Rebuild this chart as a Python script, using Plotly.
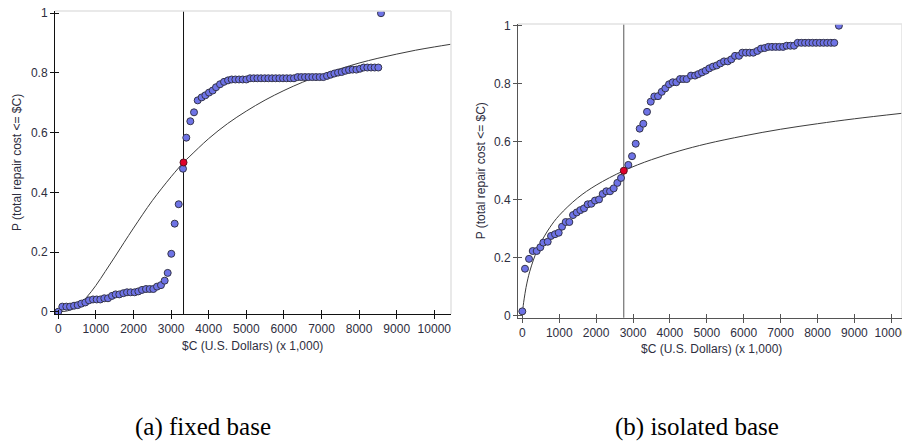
import plotly.graph_objects as go

# ---------------- data ----------------
# (a) fixed base: empirical probability of total repair cost <= $C
fixed_cost = [0, 106, 213, 311, 418, 515, 612, 718, 816, 923, 1020, 1117, 1223, 1321,
              1428, 1525, 1622, 1729, 1827, 1924, 2031, 2128, 2226, 2332, 2430, 2527,
              2625, 2731, 2829, 2909, 3005, 3095, 3202, 3316,
              3404, 3511, 3609, 3707, 3813, 3911, 4008, 4106, 4194, 4301, 4407, 4514,
              4611, 4709, 4806, 4904, 5001, 5099, 5196, 5294, 5391, 5489, 5586, 5684,
              5781, 5879, 5976, 6074, 6171, 6268, 6366, 6463, 6561, 6658, 6756, 6853,
              6951, 7049, 7147, 7244, 7342, 7439, 7537, 7634, 7732, 7829, 7927, 8024,
              8122, 8219, 8317, 8414, 8511, 8582]
fixed_prob = [0.0, 0.017, 0.017, 0.017, 0.020, 0.022, 0.027, 0.031, 0.038, 0.041, 0.041,
              0.041, 0.045, 0.045, 0.053, 0.058, 0.058, 0.062, 0.065, 0.065, 0.065, 0.068,
              0.073, 0.076, 0.076, 0.076, 0.084, 0.089, 0.104, 0.130, 0.194, 0.295, 0.360,
              0.479,
              0.583, 0.638, 0.668, 0.708, 0.718, 0.725, 0.734, 0.741, 0.752, 0.762, 0.770,
              0.775, 0.778, 0.778, 0.778, 0.778, 0.778, 0.782, 0.782, 0.782, 0.782, 0.782,
              0.782, 0.782, 0.782, 0.782, 0.782, 0.782, 0.782, 0.782, 0.786, 0.786, 0.786,
              0.786, 0.786, 0.786, 0.786, 0.786, 0.790, 0.794, 0.798, 0.801, 0.803, 0.807,
              0.810, 0.811, 0.811, 0.814, 0.818, 0.818, 0.818, 0.818, 0.818, 1.0]
fixed_fit_cost = [0, 250, 500, 750, 1000, 1250, 1500, 1750, 2000, 2500, 3000, 3330, 3500,
                  4000, 4500, 5000, 5500, 6000, 6500, 7000, 7500, 8000, 8500, 9000, 9500,
                  10000, 10440]
fixed_fit_prob = [0.0, 0.003, 0.018, 0.048, 0.088, 0.135, 0.183, 0.232, 0.280, 0.372,
                  0.452, 0.500, 0.521, 0.580, 0.630, 0.672, 0.709, 0.741, 0.769, 0.793,
                  0.814, 0.833, 0.849, 0.863, 0.876, 0.887, 0.896]
fixed_median = 3330

# (b) isolated base
isolated_cost = [0, 73, 182, 282, 390, 488, 569, 688, 778, 886, 986, 1076, 1176, 1274,
                 1374, 1474, 1572, 1672, 1772, 1870, 1970, 2079, 2179, 2276, 2377, 2477,
                 2575, 2675, 2873, 2973, 3073, 3181, 3279, 3379, 3480, 3577, 3678, 3778,
                 3875, 3976, 4076, 4173, 4274, 4364, 4455, 4572, 4680, 4770, 4870, 4970,
                 5068, 5168, 5268, 5366, 5466, 5566, 5664, 5764, 5873, 5962, 6062, 6162,
                 6260, 6369, 6469, 6569, 6667, 6767, 6867, 6967, 7067, 7165, 7265, 7365,
                 7463, 7563, 7663, 7763, 7863, 7963, 8063, 8163, 8263, 8363, 8455, 8580]
isolated_prob = [0.015, 0.162, 0.196, 0.223, 0.223, 0.236, 0.252, 0.255, 0.275, 0.281,
                 0.286, 0.307, 0.323, 0.323, 0.347, 0.356, 0.364, 0.370, 0.384, 0.386,
                 0.397, 0.401, 0.420, 0.429, 0.429, 0.439, 0.458, 0.475, 0.520, 0.550,
                 0.593, 0.645, 0.662, 0.703, 0.738, 0.756, 0.757, 0.772, 0.784, 0.798,
                 0.805, 0.805, 0.816, 0.816, 0.816, 0.828, 0.828, 0.833, 0.839, 0.845,
                 0.853, 0.859, 0.863, 0.870, 0.877, 0.877, 0.884, 0.896, 0.896, 0.907,
                 0.907, 0.907, 0.907, 0.913, 0.921, 0.923, 0.927, 0.927, 0.927, 0.927,
                 0.927, 0.931, 0.931, 0.931, 0.941, 0.941, 0.941, 0.941, 0.941, 0.941,
                 0.941, 0.941, 0.941, 0.941, 0.941, 1.0]
isolated_fit_cost = [0, 5, 10, 25, 50, 100, 150, 200, 300, 400, 500, 750, 1000, 1500, 2000,
                     2750, 3500, 4250, 5000, 6000, 7000, 8000, 9000, 10290]
isolated_fit_prob = [0.0, 0.007, 0.014, 0.035, 0.058, 0.097, 0.127, 0.152, 0.192, 0.225,
                     0.252, 0.305, 0.346, 0.406, 0.450, 0.500, 0.538, 0.568, 0.593, 0.620,
                     0.643, 0.662, 0.679, 0.698]
isolated_median = 2750

x_ticks = [0, 1000, 2000, 3000, 4000, 5000, 6000, 7000, 8000, 9000, 10000]
x_tick_labels = ["0", "1000", "2000", "3000", "4000", "5000", "6000", "7000", "8000",
                 "9000", "10000"]
y_ticks = [0, 0.2, 0.4, 0.6, 0.8, 1]
y_tick_labels = ["0", "0.2", "0.4", "0.6", "0.8", "1"]

x_title = "$C (U.S. Dollars) (x 1,000)"
y_title = "P (total repair cost <= $C)"
captions = ["(a) fixed base", "(b) isolated base"]

# ---------------- layout helpers ----------------
W, H = 902, 443


def px(x):
    return x / W


def py(y):
    return 1 - y / H


BLUE = "#6E73E6"
EDGE = "#34344a"
TXT = "#2e2e3e"
FONT = "Liberation Sans, Arial, sans-serif"

panels = [
    dict(cost=fixed_cost, prob=fixed_prob, fc=fixed_fit_cost, fp=fixed_fit_prob,
         med=fixed_median, xdom=[55, 451], ydom=[11, 314],
         xr=[-88, 10444], yr=[-0.0077, 1.0074], axc="#111111", xs="", ov="3"),
    dict(cost=isolated_cost, prob=isolated_prob, fc=isolated_fit_cost,
         fp=isolated_fit_prob, med=isolated_median, xdom=[518, 902], ydom=[24, 317.7],
         xr=[-117, 10290], yr=[-0.0069, 1.0059], axc="#555555", xs="2", ov="4"),
]

fig = go.Figure()
layout = dict(width=W, height=H, margin=dict(l=0, r=0, t=0, b=0), autosize=False,
              paper_bgcolor="white", plot_bgcolor="white", showlegend=False,
              font=dict(family=FONT, size=12, color=TXT))
shapes, annotations = [], []

for i, p in enumerate(panels):
    xs = p["xs"]
    xa, ya = "x" + xs, "y" + xs
    ov = p["ov"]
    # fitted curve
    fig.add_trace(go.Scatter(x=p["fc"], y=p["fp"], mode="lines", xaxis=xa, yaxis=ya,
                             line=dict(color="#3c3c3c", width=1, shape="spline"),
                             hoverinfo="skip"))
    # empirical points
    fig.add_trace(go.Scatter(x=p["cost"], y=p["prob"], mode="markers", xaxis=xa, yaxis=ya,
                             marker=dict(size=7, color=BLUE,
                                         line=dict(color=EDGE, width=1))))
    # median point
    fig.add_trace(go.Scatter(x=[p["med"]], y=[0.5], mode="markers", xaxis=xa, yaxis=ya,
                             marker=dict(size=7, color="#E0002A",
                                         line=dict(color="#5a1020", width=1))))
    # invisible trace for the inner tick overlay
    fig.add_trace(go.Scatter(x=[None], y=[None], xaxis="x" + ov, yaxis="y" + ov,
                             hoverinfo="skip"))

    xd = [px(p["xdom"][0]), px(p["xdom"][1])]
    yd = [py(p["ydom"][1]), py(p["ydom"][0])]
    common = dict(showgrid=False, zeroline=False, automargin=False, fixedrange=True)
    layout["xaxis" + xs] = dict(domain=xd, range=p["xr"], anchor=ya, tickvals=x_ticks,
                                ticktext=x_tick_labels, ticklabeloverflow="allow",
                                ticks="outside", ticklen=4, tickcolor=p["axc"],
                                showline=True, linecolor=p["axc"], linewidth=1,
                                tickfont=dict(family=FONT, size=12, color=TXT), **common)
    layout["yaxis" + xs] = dict(domain=yd, range=p["yr"], anchor=xa, tickvals=y_ticks,
                                ticktext=y_tick_labels,
                                ticks="outside", ticklen=4, tickcolor=p["axc"],
                                showline=True, linecolor=p["axc"], linewidth=1,
                                tickfont=dict(family=FONT, size=12, color=TXT), **common)
    layout["xaxis" + ov] = dict(domain=xd, range=p["xr"], anchor="y" + ov, overlaying=xa,
                                tickvals=x_ticks, ticks="inside", ticklen=4,
                                tickcolor=p["axc"], showticklabels=False, showline=False,
                                side="bottom", **common)
    layout["yaxis" + ov] = dict(domain=yd, range=p["yr"], anchor="x" + ov, overlaying=ya,
                                tickvals=y_ticks, ticks="inside", ticklen=4,
                                tickcolor=p["axc"], showticklabels=False, showline=False,
                                side="left", **common)

    # median line and light frame on the top/right
    shapes.append(dict(type="line", xref=xa, yref=ya + " domain", x0=p["med"], x1=p["med"],
                       y0=0, y1=1, line=dict(color=p["axc"], width=1), layer="below"))
    shapes.append(dict(type="line", xref=xa + " domain", yref=ya + " domain", x0=0, x1=1,
                       y0=1, y1=1, line=dict(color="#e2e2e2", width=1.5)))
    shapes.append(dict(type="line", xref=xa + " domain", yref=ya + " domain", x0=1, x1=1,
                       y0=0, y1=1, line=dict(color="#e2e2e2", width=1.5)))

    # axis titles
    annotations.append(dict(text=x_title, xref="paper", yref="paper",
                            x=px([252.5, 711.7][i]), y=py([346, 349][i]),
                            xanchor="center", yanchor="middle", showarrow=False,
                            font=dict(family=FONT, size=12, color=TXT)))
    annotations.append(dict(text=y_title, xref="paper", yref="paper", textangle=-90,
                            x=px([16.5, 480.5][i]),
                            y=py((p["ydom"][0] + p["ydom"][1]) / 2),
                            xanchor="center", yanchor="middle", showarrow=False,
                            font=dict(family=FONT, size=12, color=TXT)))
    # caption
    annotations.append(dict(text=captions[i], xref="paper", yref="paper",
                            x=px([203, 697][i]), y=py(427), xanchor="center",
                            yanchor="middle", showarrow=False,
                            font=dict(family="Liberation Serif, Times New Roman, serif",
                                      size=25, color="#000000")))

layout["shapes"] = shapes
layout["annotations"] = annotations
fig.update_layout(**layout)
fig.write_html("out.html")
